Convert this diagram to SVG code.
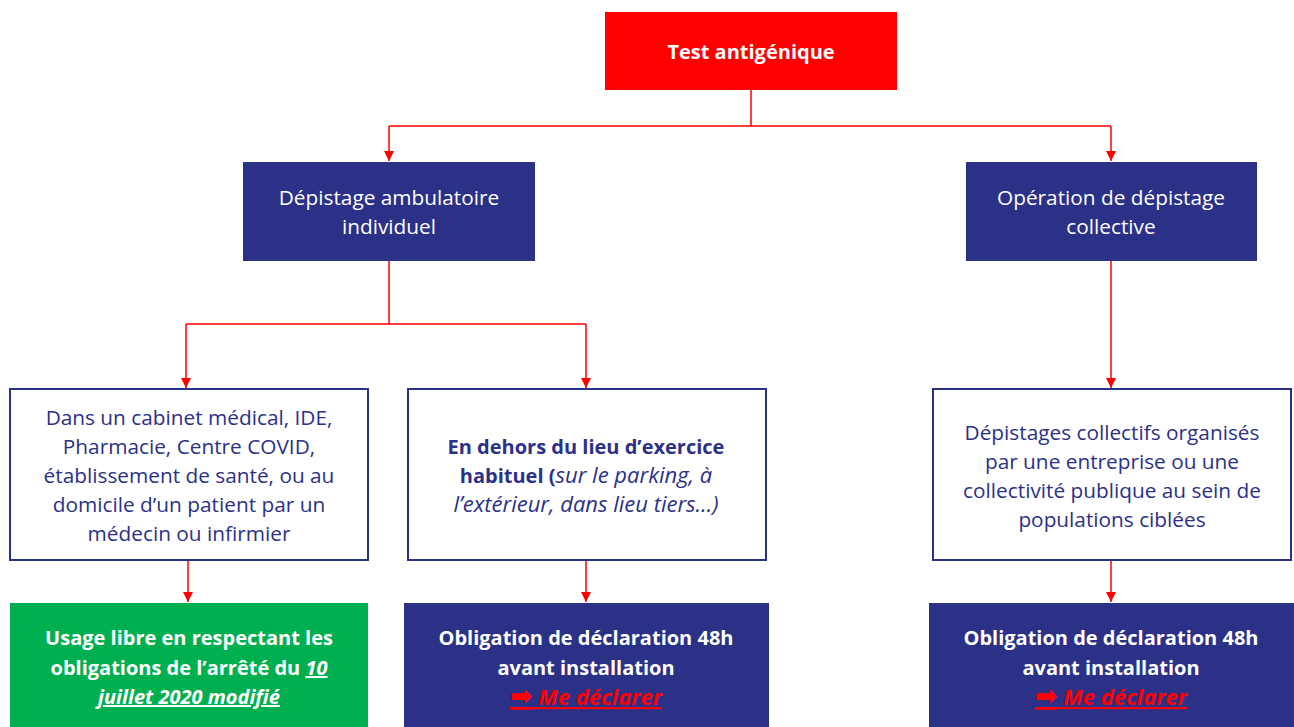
<svg xmlns="http://www.w3.org/2000/svg" width="1294" height="727" viewBox="0 0 1294 727">
<style>
.t{font-family:"Open Sans","Liberation Sans",sans-serif;font-size:20.8px;text-anchor:middle}
.w{fill:#fff}
.n{fill:#2B3187}
.b{font-weight:bold;font-size:20px}
.i{font-style:italic;font-size:22px}
.r{fill:#FF0000}
.u{text-decoration:underline}
.md{font-style:italic;font-size:22px}
.arr{font-family:"DejaVu Sans",sans-serif;font-style:normal;font-size:27px}
.edge{stroke:#FF0000;stroke-width:1.5;fill:none}
</style>
<defs>
<marker id="ah" viewBox="0 0 10 10" refX="10" refY="5" markerWidth="10" markerHeight="10" markerUnits="userSpaceOnUse" orient="auto">
<path d="M0,0L10,5L0,10Z" fill="#FF0000"/>
</marker>
</defs>
<g id="connectors">
<path class="edge" d="M751,90V126M389,126H1111"/>
<path class="edge" d="M389,126V161" marker-end="url(#ah)"/>
<path class="edge" d="M1111,126V161" marker-end="url(#ah)"/>
<path class="edge" d="M389,261V324M186,324H586"/>
<path class="edge" d="M186,324V388" marker-end="url(#ah)"/>
<path class="edge" d="M586,324V388" marker-end="url(#ah)"/>
<path class="edge" d="M1111,261V388" marker-end="url(#ah)"/>
<path class="edge" d="M188,561V602" marker-end="url(#ah)"/>
<path class="edge" d="M586,561V602" marker-end="url(#ah)"/>
<path class="edge" d="M1111,561V602" marker-end="url(#ah)"/>
</g>
<g id="n-test">
<rect x="605" y="12" width="292" height="78" fill="#FF0000"/>
<text class="t w b" x="751" y="59">Test antigénique</text>
</g>
<g id="n-ambu">
<rect x="243" y="162" width="292" height="99" fill="#2B3187"/>
<text class="t w" x="389" y="205">Dépistage ambulatoire</text>
<text class="t w" x="389" y="234">individuel</text>
</g>
<g id="n-coll">
<rect x="966" y="162" width="291" height="99" fill="#2B3187"/>
<text class="t w" x="1111" y="205">Opération de dépistage</text>
<text class="t w" x="1111" y="234">collective</text>
</g>
<g id="n-cabinet">
<rect x="10" y="389" width="358" height="171" fill="#fff" stroke="#2B3187" stroke-width="2"/>
<text class="t n" x="189" y="425">Dans un cabinet médical, IDE,</text>
<text class="t n" x="189" y="454">Pharmacie, Centre COVID,</text>
<text class="t n" x="189" y="483">établissement de santé, ou au</text>
<text class="t n" x="189" y="512">domicile d’un patient par un</text>
<text class="t n" x="189" y="541">médecin ou infirmier</text>
</g>
<g id="n-dehors">
<rect x="408" y="389" width="358" height="171" fill="#fff" stroke="#2B3187" stroke-width="2"/>
<text class="t n b" x="586" y="454">En dehors du lieu d’exercice</text>
<text class="t n" x="586" y="483"><tspan class="b">habituel (</tspan><tspan class="i">sur le parking, à</tspan></text>
<text class="t n i" x="586" y="512">l’extérieur, dans lieu tiers…)</text>
</g>
<g id="n-collectifs">
<rect x="933" y="389" width="358" height="171" fill="#fff" stroke="#2B3187" stroke-width="2"/>
<text class="t n" x="1112" y="440">Dépistages collectifs organisés</text>
<text class="t n" x="1112" y="469">par une entreprise ou une</text>
<text class="t n" x="1112" y="498">collectivité publique au sein de</text>
<text class="t n" x="1112" y="527">populations ciblées</text>
</g>
<g id="n-usage">
<rect x="10" y="603" width="358" height="124" fill="#00B050"/>
<text class="t w b" x="189" y="645">Usage libre en respectant les</text>
<text class="t w b" x="189" y="675">obligations de l’arrêté du <tspan class="u" font-style="italic">10</tspan></text>
<text class="t w b u" font-style="italic" x="189" y="704">juillet 2020 modifié</text>
</g>
<g id="n-oblig1">
<rect x="404" y="603" width="365" height="124" fill="#2B3187"/>
<text class="t w b" x="586" y="645">Obligation de déclaration 48h</text>
<text class="t w b" x="586" y="675">avant installation</text>
<text class="t r b u md" x="586" y="705"><tspan class="arr">➡</tspan> Me déclarer</text>
</g>
<g id="n-oblig2">
<rect x="929" y="603" width="365" height="124" fill="#2B3187"/>
<text class="t w b" x="1111" y="645">Obligation de déclaration 48h</text>
<text class="t w b" x="1111" y="675">avant installation</text>
<text class="t r b u md" x="1111" y="705"><tspan class="arr">➡</tspan> Me déclarer</text>
</g>
</svg>
